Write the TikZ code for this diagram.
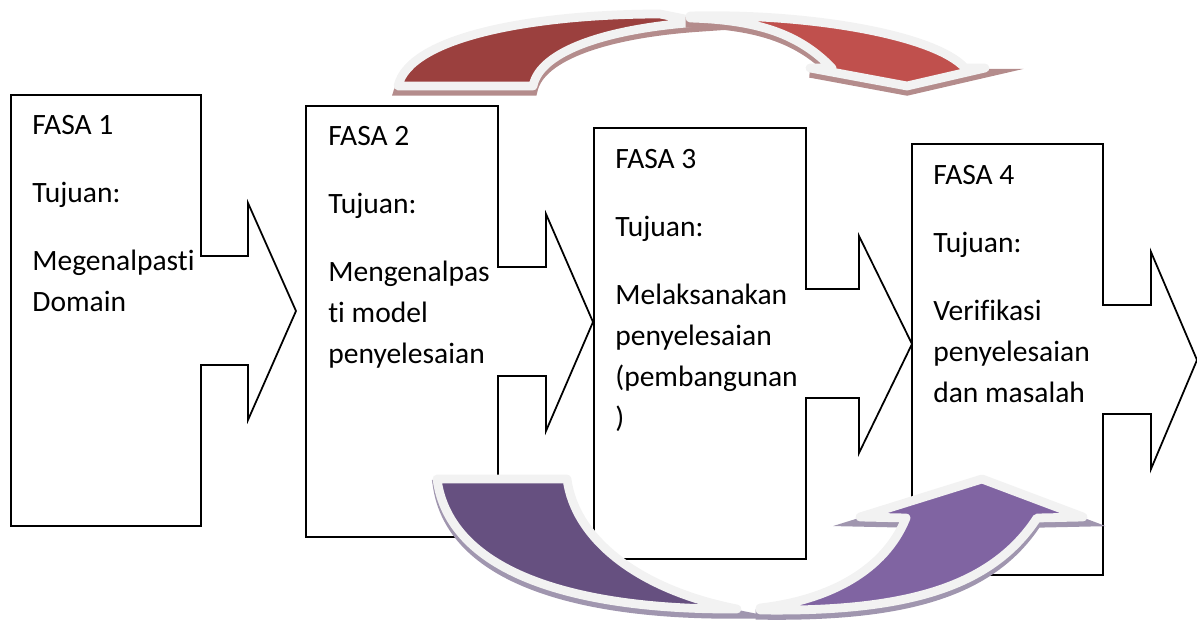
\documentclass[tikz,border=0pt]{standalone}
\usepackage{fontspec}
\setmainfont{Carlito}[Ligatures=NoCommon]
\usepackage{tikz}
\definecolor{reddark}{RGB}{155,64,62}
\definecolor{redlight}{RGB}{192,80,77}
\definecolor{redshadow}{RGB}{180,140,140}
\definecolor{purpledark}{RGB}{102,80,128}
\definecolor{purplelight}{RGB}{128,100,162}
\definecolor{purpleshadow}{RGB}{160,150,175}
\definecolor{rimgray}{RGB}{242,242,242}

\begin{document}
\begin{tikzpicture}[x=0.02cm,y=-0.02cm,
	phase/.style={draw=black,fill=white,line width=1pt},
	goal/.style={anchor=north west,inner sep=0pt,align=left,font=\fontsize{16.8}{23.3}\selectfont},
	band/.style={draw=rimgray,line width=5pt,line join=round,preaction={draw=#1,fill=#1,line width=5pt,transform canvas={yshift=-3pt}}}]
	\useasboundingbox (0,0) rectangle (1197,624);
	\draw[band=redshadow,fill=reddark] (398,86) .. controls (410,35) and (540,14) .. (660,14) -- (700,22) .. controls (610,28) and (540,50) .. (533,86) -- cycle;
	\draw[band=redshadow,fill=redlight] (690,16) .. controls (810,13) and (935,35) .. (965,68) -- (985,68) -- (907,86) -- (810,68) -- (832,68) .. controls (800,35) and (760,20) .. (690,18) -- cycle;
	\foreach \xa/\ya/\xb/\xc/\xd in {11/95/201/248/296, 306/106/498/546/593, 594/128/806/859/912, 912/144/1103/1151/1197}
		\draw[phase] (\xa,\ya) -- (\xb,\ya) -- (\xb,\ya+161) -- (\xc,\ya+161) -- (\xc,\ya+108) -- (\xd,\ya+216) -- (\xc,\ya+325) -- (\xc,\ya+270) -- (\xb,\ya+270) -- (\xb,\ya+431) -- (\xa,\ya+431) -- cycle;
	\node[goal] (goal1) at (32,115) {FASA 1\\[0.54cm]Tujuan:\\[0.54cm]Megenalpasti\\Domain};
	\node[goal] (goal2) at (328,126) {FASA 2\\[0.54cm]Tujuan:\\[0.54cm]Mengenalpas\\ti model\\penyelesaian};
	\node[goal] (goal3) at (615,149) {FASA 3\\[0.54cm]Tujuan:\\[0.54cm]Melaksanakan\\penyelesaian\\(pembangunan\\)};
	\node[goal] (goal4) at (933,165) {FASA 4\\[0.54cm]Tujuan:\\[0.54cm]Verifikasi\\penyelesaian\\dan masalah};
	\draw[band=purpleshadow,fill=purpledark] (437,479) -- (567,479) .. controls (575,540) and (640,590) .. (737,609) .. controls (580,610) and (450,575) .. (437,479) -- cycle;
	\draw[band=purpleshadow,fill=purplelight] (760,610) .. controls (900,612) and (990,590) .. (1037,518) -- (1083,517) -- (982,479) -- (860,517) -- (906,518) .. controls (885,570) and (830,600) .. (760,608) -- cycle;
\end{tikzpicture}
\end{document}
